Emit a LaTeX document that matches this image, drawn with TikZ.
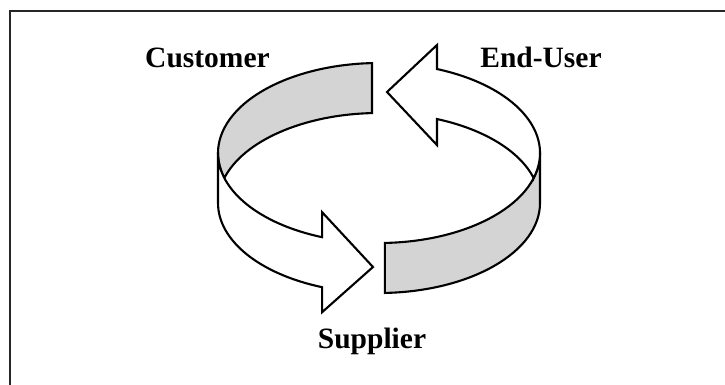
\documentclass[tikz,border=0pt]{standalone}
\usepackage{fontspec}
\setmainfont{Liberation Serif}
\begin{document}
\begin{tikzpicture}[x=1pt, y=-1pt,
  rim/.style={draw=black, line width=2.1pt, line join=miter},
  inside/.style={rim, fill=black!17},
  outside/.style={rim, fill=white},
  label/.style={font=\fontsize{29.5}{34}\selectfont\bfseries, anchor=base, inner sep=0pt},
  frameline/.style={draw=black!85, line width=1.5pt},
  ell/.style={x radius=161, y radius=90}]
\useasboundingbox (0,0) rectangle (725,385);

% outer frame
\draw[frameline] (10,385) -- (10,11) -- (725,11);

% centres of the upper and lower rims of the band
\coordinate (T) at (379,153);
\coordinate (B) at (379,203);

% first arrow: tail on the inner back wall, head on the outer front wall
\draw[inside] ([shift={(267.5:161 and 90)}]T)
  arc[start angle=267.5, end angle=163.87, ell]
  -- ([shift={(196.13:161 and 90)}]B)
  arc[start angle=196.13, end angle=267.5, ell] -- cycle;
\draw[outside] ([shift={(180:161 and 90)}]T)
  arc[start angle=180, end angle=110.7, ell]
  -- ++(0,-25) -- (373,267) -- (322.1,312.2)
  -- ([shift={(110.7:161 and 90)}]B)
  arc[start angle=110.7, end angle=180, ell] -- cycle;

% second arrow: tail on the outer front wall, head on the inner back wall
\draw[inside] ([shift={(87.9:161 and 90)}]T)
  arc[start angle=87.9, end angle=0, ell]
  -- ([shift={(0:161 and 90)}]B)
  arc[start angle=0, end angle=87.9, ell] -- cycle;
\draw[outside] ([shift={(291.1:161 and 90)}]T)
  arc[start angle=291.1, end angle=376.13, ell]
  -- ([shift={(343.87:161 and 90)}]B)
  arc[start angle=343.87, end angle=291.1, ell]
  -- ++(0,26) -- (387,92) -- (437,45) -- cycle;

% labels
\node[label] (customer) at (207.5,68) {Customer};
\node[label] (enduser) at (541,68) {End-User};
\node[label] (supplier) at (372,348) {Supplier};
\end{tikzpicture}
\end{document}
